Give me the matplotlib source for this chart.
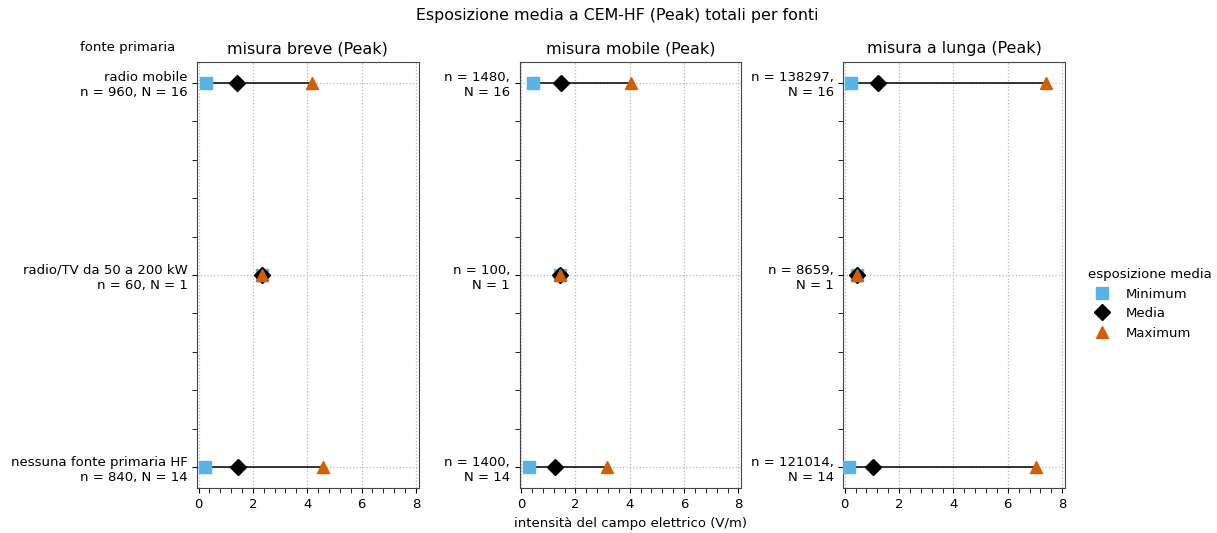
import matplotlib.pyplot as plt
from matplotlib.ticker import MultipleLocator
from matplotlib.lines import Line2D

PANELS = ['misura breve (Peak)', 'misura mobile (Peak)', 'misura a lunga (Peak)']
SOURCES = ['radio mobile', 'radio/TV da 50 a 200 kW', 'nessuna fonte primaria HF']
LABELS = [
    ['radio mobile\nn = 960, N = 16', 'radio/TV da 50 a 200 kW\nn = 60, N = 1',
     'nessuna fonte primaria HF\nn = 840, N = 14'],
    ['n = 1480,\nN = 16', 'n = 100,\nN = 1', 'n = 1400,\nN = 14'],
    ['n = 138297,\nN = 16', 'n = 8659,\nN = 1', 'n = 121014,\nN = 14'],
]
MINS = [[0.27, 2.35, 0.25], [0.43, 1.45, 0.28], [0.23, 0.45, 0.16]]
MEANS = [[1.42, 2.35, 1.45], [1.48, 1.45, 1.24], [1.21, 0.45, 1.04]]
MAXS = [[4.19, 2.35, 4.59], [4.05, 1.45, 3.17], [7.41, 0.45, 7.03]]

C_MIN = '#56B4E9'
C_MAX = '#D55E00'

fig = plt.figure(figsize=(12.17, 5.33), dpi=100)
lefts = [0.162, 0.427, 0.693]
w = 0.182
y = list(range(len(SOURCES)))

for i, title in enumerate(PANELS):
    ax = fig.add_axes([lefts[i], 0.084, w, 0.8])
    ax.hlines(y, MINS[i], MAXS[i], color='black', lw=1.1, zorder=2)
    ax.plot(MINS[i], y, 's', color=C_MIN, ms=8, ls='none', zorder=3)
    ax.plot(MEANS[i], y, 'D', color='black', ms=8, ls='none', zorder=4)
    ax.plot(MAXS[i], y, '^', color=C_MAX, ms=8, ls='none', zorder=5)
    ax.set_xlim(-0.05, 8.1)
    ax.set_ylim(2.11, -0.11)
    ax.set_yticks(y)
    ax.set_yticklabels(LABELS[i], fontsize=9.5)
    ax.yaxis.set_minor_locator(MultipleLocator(0.2))
    ax.xaxis.set_major_locator(MultipleLocator(2))
    ax.xaxis.set_minor_locator(MultipleLocator(0.4))
    ax.tick_params(axis='x', labelsize=9.5)
    ax.tick_params(which='minor', length=3.5)
    ax.grid(True, which='major', ls=':', color='#b8b8b8', lw=0.9)
    ax.set_title(title, fontsize=11.4)
    for s in ax.spines.values():
        s.set_color('#444444')
    if i == 1:
        ax.set_xlabel('intensità del campo elettrico (V/m)', fontsize=9.5)

fig.text(0.105, 0.91, 'fonte primaria', ha='center', va='center', fontsize=9.5)
fig.suptitle('Esposizione media a CEM-HF (Peak) totali per fonti', fontsize=11.4,
             x=0.507, y=0.985)

handles = [
    Line2D([], [], marker='s', color=C_MIN, ls='none', ms=8),
    Line2D([], [], marker='D', color='black', ls='none', ms=8),
    Line2D([], [], marker='^', color=C_MAX, ls='none', ms=8),
]
fig.legend(handles, ['Minimum', 'Media', 'Maximum'], title='esposizione media',
           loc='center left', bbox_to_anchor=(0.8845, 0.43), frameon=False,
           fontsize=9.5, title_fontsize=9.5, handletextpad=0.8, alignment='left')

fig.savefig('out.png', dpi=100)
